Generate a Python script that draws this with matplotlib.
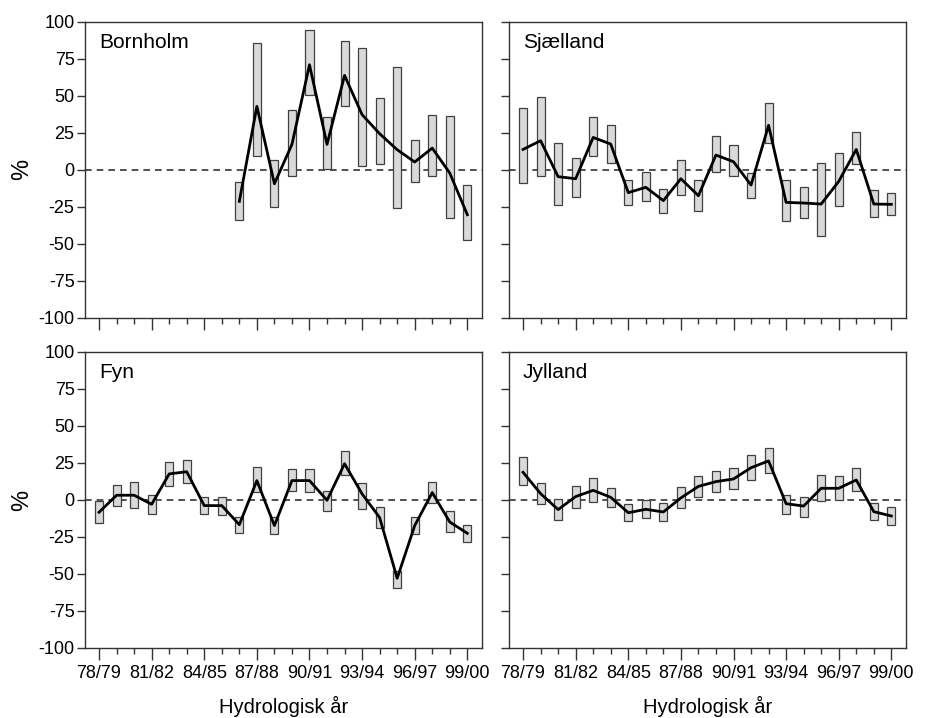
import numpy as np
import matplotlib
matplotlib.use("Agg")
import matplotlib.pyplot as plt

plt.rcParams['font.family'] = ['Liberation Sans', 'DejaVu Sans']
plt.rcParams['axes.unicode_minus'] = False

years = ['78/79', '79/80', '80/81', '81/82', '82/83', '83/84', '84/85', '85/86',
         '86/87', '87/88', '88/89', '89/90', '90/91', '91/92', '92/93', '93/94',
         '94/95', '95/96', '96/97', '97/98', '98/99', '99/00']
nan = np.nan

# Bornholm: data only from 86/87
born_hi = [nan] * 8 + [-8, 85.6, 6.8, 40.3, 94.4, 35.6, 87.2, 82, 48.4, 69.4, 19.8, 36.7, 36, -10.6]
born_lo = [nan] * 8 + [-34, 9.5, -25.5, -4.5, 50.2, 0.2, 43.2, 2.7, 3.6, -25.9, -8.6, -4.5, -32.7, -47.3]
born_mid = [nan] * 8 + [-21.4, 42.8, -9.5, 17.1, 70.9, 17.1, 63.7, 37.2, 24.3, 13.5, 5.2, 14.6, -2.3, -30.4]

sjae_hi = [41.4, 48.9, 18, 8.1, 35.6, 30.4, -6.8, -1.4, -13.1, 6.8, -7, 22.5, 16.9, -2,
           45.3, -7.2, -11.7, 4.7, 11.5, 25.7, -13.7, -15.5]
sjae_lo = [-9, -4.3, -23.9, -18.5, 9.2, 4.7, -24.1, -21.2, -29.1, -16.9, -27.9, -1.6, -4.3,
           -19.4, 18.2, -34.7, -32.9, -44.8, -24.3, 3.8, -32, -30.6]
sjae_mid = [13.7, 19.6, -4.7, -6.1, 21.8, 17.3, -15.5, -11.9, -20.9, -6.1, -17.6, 9.9, 5.4,
            -10.4, 30, -22.1, -22.5, -23.2, -7.9, 13.7, -23.2, -23.4]

fyn_hi = [-0.7, 10.4, 11.9, 3.6, 25.7, 26.8, 2, 2, -11.5, 22.3, -11.7, 20.7, 20.9, 6.1,
          33.1, 11.7, -4.7, -47.7, -11.3, 12.2, -7.4, -16.7]
fyn_lo = [-15.8, -3.8, -5.4, -9.7, 9.5, 11.7, -9.7, -10.1, -22.1, 5.2, -23, 6.1, 5.4, -7.2,
          17.1, -5.9, -18.9, -59.2, -23.2, -2, -21.8, -28.2]
fyn_mid = [-8.3, 3.2, 3.2, -2.9, 17.6, 19.1, -3.8, -3.8, -16.7, 13.1, -17.3, 13.1, 13.1,
           -0.2, 24.5, 4.1, -11.9, -52.9, -17.3, 5, -14.9, -22.5]

jyl_hi = [29.3, 11.3, 0.5, 9.7, 14.6, 8.3, -2.9, -0.2, -2.3, 8.6, 16.4, 19.8, 21.8, 30.4,
          35.4, 3.6, 2, 17.1, 16, 21.8, -1.8, -4.7]
jyl_lo = [9.9, -2.7, -13.7, -5.4, -1.4, -4.7, -14.4, -12.2, -14, -5.6, 2.3, 5.2, 7.2, 13.5,
          18.2, -9.5, -11.3, -0.7, -0.2, 6.1, -13.7, -17.1]
jyl_mid = [18.7, 4.3, -6.5, 2.3, 6.5, 1.8, -8.6, -6.3, -8.1, 1.4, 9.2, 12.4, 14.2, 21.8,
           26.4, -2.5, -4.1, 7.9, 7.9, 13.5, -7.9, -10.8]

panels = [('Bornholm', born_lo, born_hi, born_mid),
          ('Sjælland', sjae_lo, sjae_hi, sjae_mid),
          ('Fyn', fyn_lo, fyn_hi, fyn_mid),
          ('Jylland', jyl_lo, jyl_hi, jyl_mid)]

fig = plt.figure(figsize=(9.26, 7.18), dpi=100)
rects = [[0.0918, 0.5575, 0.4284, 0.4123], [0.5497, 0.5575, 0.4284, 0.4123],
         [0.0918, 0.0975, 0.4284, 0.4123], [0.5497, 0.0975, 0.4284, 0.4123]]

x = np.arange(len(years))
for k, (name, lo, hi, mid) in enumerate(panels):
    ax = fig.add_axes(rects[k])
    lo = np.array(lo)
    hi = np.array(hi)
    mid = np.array(mid)
    ok = ~np.isnan(lo)
    ax.axhline(0, color='#333333', lw=1.2, ls=(0, (4, 3)), zorder=1)
    ax.bar(x[ok], hi[ok] - lo[ok], bottom=lo[ok], width=0.46, color='#d9d9d9',
           edgecolor='#404040', lw=0.9, zorder=2)
    ax.plot(x[ok], mid[ok], color='black', lw=2, zorder=3)

    ax.set_xlim(-0.8, 21.82)
    ax.set_ylim(-100, 100)
    ax.set_yticks(np.arange(-100, 101, 25))
    ax.set_xticks(x[::3])
    ax.set_xticks(x, minor=True)
    ax.tick_params(axis='x', which='major', length=8.5, width=1, color='#333333',
                   labelsize=13, pad=4)
    ax.tick_params(axis='x', which='minor', length=4.3, width=1, color='#333333')
    ax.tick_params(axis='y', length=5.5, width=1, color='#333333', labelsize=13, pad=2)
    for s in ax.spines.values():
        s.set_color('#333333')
        s.set_linewidth(1)

    if k >= 2:
        ax.set_xticklabels([years[i] for i in x[::3]])
        ax.set_xlabel('Hydrologisk år', fontsize=14.5, labelpad=10)
    else:
        ax.set_xticklabels([])
    if k % 2 == 0:
        ax.set_ylabel('%', fontsize=17, labelpad=4)
    else:
        ax.set_yticklabels([])

    ax.text(0.035, 0.962, name, transform=ax.transAxes, fontsize=15, va='top', ha='left')

fig.savefig('out.png', dpi=100)
